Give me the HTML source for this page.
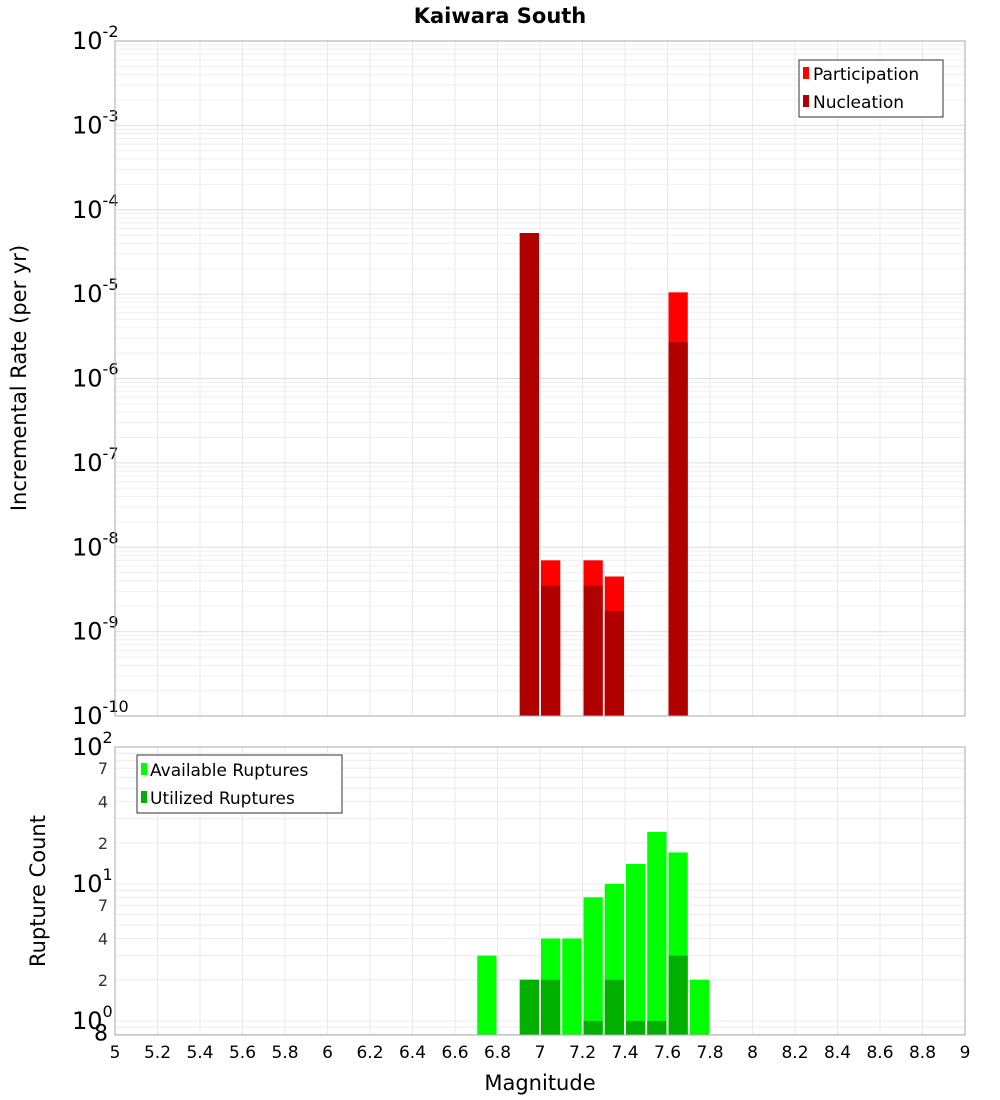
<!DOCTYPE html>
<html><head><meta charset="utf-8"><style>
body{margin:0;background:#fff}
svg{display:block;font-family:"DejaVu Sans","Liberation Sans",sans-serif}
</style></head><body>
<svg id="chart" width="1000" height="1100" xmlns="http://www.w3.org/2000/svg">
<text x="500" y="23" text-anchor="middle" font-size="21" font-weight="bold">Kaiwara South</text>
<g id="topG"></g>
<g id="botG"></g>
<text transform="translate(26,378) rotate(-90)" text-anchor="middle" font-size="21">Incremental Rate (per yr)</text>
<text transform="translate(45,891) rotate(-90)" text-anchor="middle" font-size="21">Rupture Count</text>
<text x="540" y="1090" text-anchor="middle" font-size="21">Magnitude</text>
<g>
<rect x="799" y="60" width="144" height="57" fill="#fff" stroke="#333"/>
<rect x="803" y="67" width="6" height="12" fill="#ff0000"/>
<text x="813" y="80" font-size="17">Participation</text>
<rect x="803" y="95" width="6" height="12" fill="#b00000"/>
<text x="813" y="108" font-size="17">Nucleation</text>
</g>
<g>
<rect x="137" y="755" width="205" height="58" fill="#fff" stroke="#333"/>
<rect x="141" y="763" width="6" height="12" fill="#00ff00"/>
<text x="150" y="776" font-size="17">Available Ruptures</text>
<rect x="141" y="791" width="6" height="12" fill="#00b000"/>
<text x="150" y="804" font-size="17">Utilized Ruptures</text>
</g>
</svg>
<script>
const mags=[6.75,6.95,7.05,7.15,7.25,7.35,7.45,7.55,7.65,7.75];
const participation=[0,5.3e-5,7.0e-9,0,7.0e-9,4.5e-9,0,0,1.05e-5,0];
const nucleation=[0,5.3e-5,3.5e-9,0,3.5e-9,1.75e-9,0,0,2.7e-6,0];
const available=[3,2,4,4,8,10,14,24,17,2];
const utilized=[0,2,2,0,1,2,1,1,3,0];
const xTicks=[5,5.2,5.4,5.6,5.8,6,6.2,6.4,6.6,6.8,7,7.2,7.4,7.6,7.8,8,8.2,8.4,8.6,8.8,9];
const topDecades=[-2,-3,-4,-5,-6,-7,-8,-9,-10];
const botTickLabels=[[2,"2"],[4,"4"],[7,"7"],[20,"2"],[40,"4"],[70,"7"],[0.8,"8"]];
const NS="http://www.w3.org/2000/svg";
const X0=115,X1=965;
const xS=m=>X0+(m-5)/4*(X1-X0);
const yT=v=>41+(-2-Math.log10(v))*84.375;
const yB=v=>1021-Math.log10(v)*137;
function mk(p,t,a){const e=document.createElementNS(NS,t);for(const k in a)e.setAttribute(k,a[k]);p.appendChild(e);return e;}
const topG=document.getElementById('topG'),botG=document.getElementById('botG');
for(const t of xTicks){
  let g=mk(topG,'line',{x1:xS(t),x2:xS(t),y1:41,y2:716,stroke:'#e8e8e8'});
  
  
  g=mk(botG,'line',{x1:xS(t),x2:xS(t),y1:747,y2:1035,stroke:'#e8e8e8'});
  
  
  const tl=mk(botG,'text',{x:xS(t),y:1058,'text-anchor':'middle','font-size':17});
  tl.textContent=String(t);
  
  
}
for(let d=-10;d<-2;d++)for(let k=1;k<10;k++){
  const v=k*Math.pow(10,d);
  const g=mk(topG,'line',{x1:X0,x2:X1,y1:yT(v),y2:yT(v),stroke:k==1?'#e0e0e0':'#efefef'});
  
  
}
for(let d=-1;d<2;d++)for(let k=1;k<10;k++){
  const v=k*Math.pow(10,d);const yy=yB(v);
  if(yy<747||yy>1035)continue;
  const g=mk(botG,'line',{x1:X0,x2:X1,y1:yy,y2:yy,stroke:'#ececec'});
  
  
}
for(const d of topDecades){
  const t=mk(topG,'text',{x:72,y:yT(Math.pow(10,d))+8,'font-size':24});
  t.innerHTML='10<tspan dy="-12" font-size="16">'+d+'</tspan>';
  
  
}
for(const d of [0,1,2]){
  const t=mk(botG,'text',{x:72,y:yB(Math.pow(10,d))+8,'font-size':24});
  t.innerHTML='10<tspan dy="-12" font-size="16">'+d+'</tspan>';
  
  
}
for(const [v,s] of botTickLabels){
  const t=mk(botG,'text',{x:108,y:yB(v)+6,'text-anchor':'end','font-size':v==0.8?22:16,fill:v==0.8?'#000':'#333'});
  t.textContent=s;
  
  
}
const bw=(X1-X0)/40;
mags.forEach((m,i)=>{
  const bx=xS(m)-bw/2+1,w=bw-2;
  if(participation[i]>0){const r=mk(topG,'rect',{x:bx,y:yT(participation[i]),width:w,height:716-yT(participation[i]),fill:'#ff0000'});
    
    }
  if(nucleation[i]>0){const r=mk(topG,'rect',{x:bx,y:yT(nucleation[i]),width:w,height:716-yT(nucleation[i]),fill:'#b00000'});
    
    }
  if(available[i]>0){const r=mk(botG,'rect',{x:bx,y:yB(available[i]),width:w,height:1035-yB(available[i]),fill:'#00ff00'});
    
    }
  if(utilized[i]>0){const r=mk(botG,'rect',{x:bx,y:yB(utilized[i]),width:w,height:1035-yB(utilized[i]),fill:'#00b000'});
    
    }
});
let f=mk(topG,'rect',{x:X0,y:41,width:X1-X0,height:675,fill:'none',stroke:'#aaa'});


f=mk(botG,'rect',{x:X0,y:747,width:X1-X0,height:288,fill:'none',stroke:'#aaa'});


</script>
</body></html>
